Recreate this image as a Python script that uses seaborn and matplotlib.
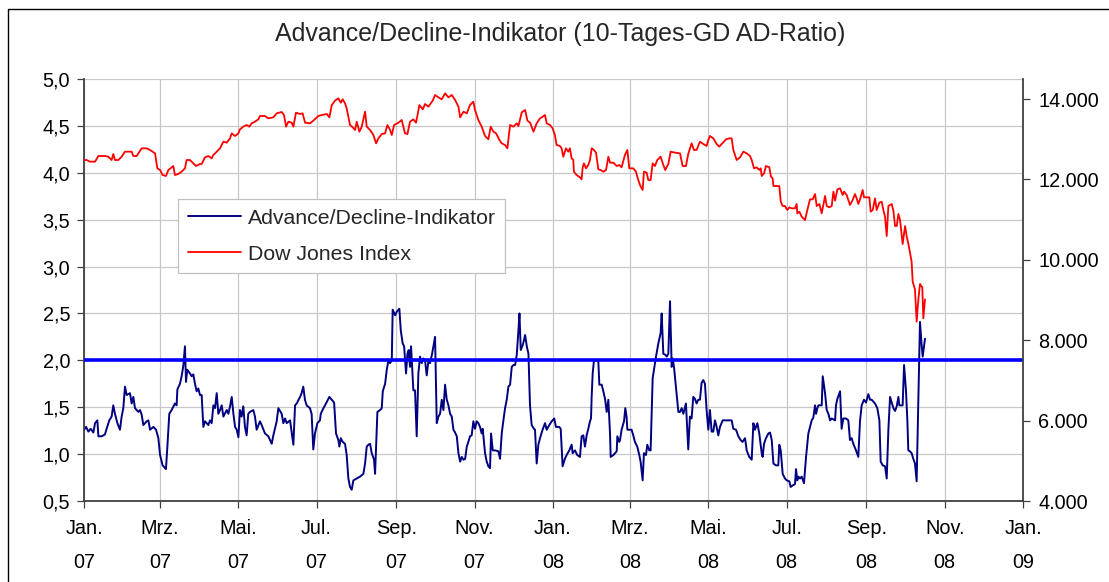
import numpy as np
import pandas as pd
import matplotlib
matplotlib.use("Agg")
import matplotlib.pyplot as plt
from matplotlib.lines import Line2D
from matplotlib.ticker import FixedLocator, FuncFormatter
import seaborn as sns

# day offsets are counted from 1 Jan 2007
start = pd.Timestamp("2007-01-01")

# Advance/Decline-Indikator (10-day average of the AD ratio)
ad_day = [
    0.0, 1.6, 3.4, 5.2, 7.3, 8.6, 10.4, 11.2, 13.8, 16.3, 17.6, 19.7, 21.5, 22.8, 24.1, 26.0,
    28.0, 29.3, 30.6, 31.9, 33.2, 35.8, 37.1, 38.4, 39.7, 42.3, 43.6, 44.9, 46.2, 48.8, 50.1,
    51.4, 54.0, 56.1, 57.9, 59.2, 61.2, 63.8, 64.9, 66.4, 68.2, 70.8, 72.1, 72.7, 74.7, 76.0,
    77.3, 78.6, 79.4, 80.4, 82.5, 83.8, 85.1, 86.4, 87.7, 89.0, 90.3, 91.6, 92.9, 94.2, 95.5,
    96.8, 98.1, 99.4, 100.7, 102.0, 103.3, 104.6, 105.9, 107.2, 108.5, 111.1, 112.4, 113.7,
    115.0, 116.3, 117.6, 118.9, 120.2, 121.4, 122.7, 124.0, 125.3, 126.6, 127.9, 129.2, 131.8,
    133.1, 134.4, 137.0, 138.3, 140.9, 143.5, 146.1, 147.4, 150.0, 151.3, 153.9, 155.2, 156.5,
    157.8, 160.4, 163.0, 164.3, 165.6, 168.2, 169.4, 170.7, 172.0, 173.3, 175.9, 177.2, 178.5,
    179.8, 181.7, 183.7,
    184.3, 186.4, 188.4, 191.0, 192.9, 194.7, 196.2, 198.0, 198.8, 199.9, 201.4, 203.2, 204.5,
    205.8, 207.1, 208.4, 209.7, 212.3, 214.9, 217.5, 218.8, 220.1, 221.4, 222.7, 224.0, 225.8,
    226.6, 228.4, 230.5, 231.8, 232.6, 234.4, 235.7, 237.0, 238.3, 239.6, 240.3, 242.2, 243.5,
    245.5, 246.6, 248.1, 249.2, 250.7, 251.8, 252.8, 253.8, 254.6, 256.4, 257.7, 259.0, 260.3,
    261.6, 262.9, 264.2, 265.5, 266.8, 268.1, 269.4, 271.0, 272.0, 273.3, 274.6, 275.9, 277.2,
    278.5, 279.8, 281.1, 282.4, 283.7, 285.0, 286.3, 287.6, 288.9, 290.2, 291.5, 292.8, 294.1,
    295.4, 296.7, 298.0, 299.2, 300.5, 301.8, 303.1, 304.4, 305.7, 307.0, 308.3, 309.6, 310.4,
    312.2, 313.5, 314.8, 316.1, 316.9, 318.2, 320.0, 322.6, 323.9, 325.2, 326.5, 327.8, 329.1,
    330.4, 331.7, 333.0, 334.3, 335.6, 336.9, 338.2, 339.0, 340.0, 341.5, 342.6, 343.4, 344.7,
    346.0,
    347.2, 348.5, 350.3, 351.1, 352.4, 353.7, 355.0, 357.0, 358.9, 360.2, 362.2, 364.1, 366.1,
    367.4, 370.0, 371.1, 372.6, 374.4, 375.7, 377.8, 379.6, 380.4, 382.2, 384.0, 386.1, 387.4,
    388.7, 390.0, 391.3, 392.6, 393.9, 394.7, 395.2, 396.0, 397.0, 399.1, 400.4, 401.2, 403.0,
    404.3, 405.6, 406.9, 408.2, 409.5, 410.0, 412.1, 414.7, 415.2, 416.7, 417.3, 418.5, 420.4,
    421.4, 422.4, 423.0, 426.3, 427.6, 428.9, 430.7, 432.3, 433.3, 434.9, 435.9, 437.5, 438.5,
    440.1, 441.1, 442.7, 443.7, 445.3, 447.1, 448.9, 449.7, 451.0, 452.5, 453.6, 454.9, 456.2,
    457.5, 458.3, 459.3, 460.8, 462.7, 464.0, 465.3, 466.6, 468.6, 470.4, 471.7, 473.0, 474.3,
    475.6, 476.9, 478.2, 479.5, 480.8, 482.1, 483.4, 484.7, 486.0, 487.3, 488.6, 489.9, 491.2,
    492.5, 493.8, 495.1, 497.2, 500.3, 504.2, 505.5, 507.6, 509.4, 511.2, 512.7, 514.6, 515.9,
    517.9, 519.8, 521.1, 522.3, 524.2, 525.7,
    526.3, 527.6, 528.3, 529.4, 530.9, 532.8, 534.1, 535.4, 536.7, 538.7, 540.5, 541.3, 542.4,
    543.9, 545.7, 547.0, 549.1, 550.1, 552.2, 553.5, 554.3, 555.3, 556.1, 557.4, 558.7, 560.5,
    562.1, 563.9, 565.2, 566.5, 567.8, 569.1, 569.9, 570.9, 571.7, 574.3, 575.1, 576.9, 578.2,
    579.5, 580.8, 582.1, 584.7, 585.4, 586.5, 588.6, 589.8, 591.1, 593.2, 595.0, 596.3, 597.6,
    598.9, 601.0, 602.8, 604.1, 605.4, 607.2, 608.8, 610.6, 611.9, 613.2, 614.5, 615.8, 617.6,
    619.2, 620.2, 621.8, 623.6, 624.9, 626.2, 627.5, 628.8, 630.1, 631.4, 632.7, 634.0, 634.7,
    637.3, 638.4, 639.9, 641.0, 641.7, 643.0, 644.3, 645.6, 646.9, 648.2, 650.8, 652.1, 652.9,
    653.9, 654.7,
]
ad_ratio = [
    1.26, 1.29, 1.24, 1.27, 1.23, 1.33, 1.36, 1.19, 1.19, 1.21, 1.27, 1.36, 1.40, 1.52, 1.43, 1.33,
    1.26, 1.40, 1.49, 1.72, 1.63, 1.65, 1.54, 1.61, 1.49, 1.45, 1.47, 1.42, 1.31, 1.35, 1.36,
    1.26, 1.29, 1.26, 1.17, 0.99, 0.88, 0.84, 1.08, 1.43, 1.47, 1.54, 1.52, 1.69, 1.75, 1.83,
    1.94, 2.15, 1.77, 1.90, 1.86, 1.83, 1.85, 1.75, 1.67, 1.70, 1.63, 1.63, 1.29, 1.35, 1.33,
    1.31, 1.36, 1.33, 1.52, 1.49, 1.65, 1.43, 1.47, 1.52, 1.40, 1.47, 1.43, 1.51,
    1.61, 1.43, 1.29, 1.26, 1.18, 1.47, 1.40, 1.51, 1.29, 1.20, 1.43, 1.45, 1.47,
    1.40, 1.26, 1.35, 1.31, 1.22, 1.19, 1.11, 1.20, 1.35, 1.49, 1.43, 1.33, 1.38,
    1.33, 1.36, 1.10, 1.52, 1.54, 1.61, 1.65, 1.72, 1.58, 1.52, 1.49, 1.43, 1.05,
    1.22, 1.33, 1.36,
    1.43, 1.49, 1.54, 1.61, 1.58, 1.55, 1.22, 1.15, 1.08, 1.17, 1.13, 1.11, 0.99,
    0.74, 0.65, 0.62, 0.72, 0.74, 0.76, 0.79, 0.90, 1.08, 1.10, 1.11, 1.01, 0.94,
    0.79, 1.45, 1.47, 1.49, 1.67, 1.75, 1.90, 2.00, 1.97, 2.00, 2.54, 2.48, 2.52,
    2.55, 2.32, 2.18, 2.15, 1.86, 2.07, 2.11, 1.93, 2.15, 1.68, 1.68, 1.19, 1.86,
    2.04, 1.97, 2.02, 2.00, 1.84, 1.99, 1.97, 2.07, 2.15, 2.25, 1.33, 1.40, 1.43,
    1.58, 1.47, 1.74, 1.58, 1.52, 1.43, 1.40, 1.26, 1.23, 1.19, 1.01, 0.92, 0.97,
    0.94, 0.95, 1.08, 1.13, 1.19, 1.20, 1.35, 1.27, 1.35, 1.33, 1.29, 1.22, 1.27,
    1.01, 0.92, 0.87, 0.85, 1.22, 1.04, 1.04, 1.03, 0.95, 1.22, 1.36, 1.49, 1.58,
    1.72, 1.74, 1.93, 1.95, 1.95, 2.06, 2.32, 2.50, 2.11, 2.16, 2.22, 2.27, 2.15,
    2.07,
    1.52, 1.31, 1.27, 1.26, 0.90, 1.10, 1.17, 1.26, 1.33, 1.26, 1.31, 1.35, 1.38,
    1.29, 1.29, 1.27, 0.87, 0.95, 0.99, 1.04, 1.10, 1.01, 1.04, 0.99, 0.97, 1.19,
    1.20, 1.08, 1.20, 1.27, 1.35, 1.38, 1.61, 1.86, 2.00, 2.00, 1.99, 1.74, 1.74,
    1.67, 1.59, 1.45, 1.58, 1.22, 0.97, 0.99, 1.03, 1.19, 1.13, 1.15, 1.26, 1.35,
    1.49, 1.40, 1.26, 1.26, 1.20, 1.13, 1.08, 0.99, 0.92, 0.72, 1.01, 0.99, 1.10,
    1.04, 1.04, 1.81, 1.90, 2.04, 2.18, 2.29, 2.50, 2.07, 2.06, 2.04, 2.07, 2.63,
    1.93, 2.02, 1.93, 1.72, 1.45, 1.45, 1.49, 1.43, 1.54, 1.05, 1.40, 1.38, 1.61,
    1.59, 1.54, 1.58, 1.58, 1.76, 1.79, 1.75, 1.47, 1.26, 1.47, 1.24, 1.24, 1.36,
    1.29, 1.20, 1.29, 1.36, 1.36, 1.36, 1.27, 1.26, 1.19, 1.15, 1.13, 1.17, 1.04,
    0.97, 0.94, 1.33, 1.26, 1.33, 1.22,
    1.15, 1.01, 0.97, 1.11, 1.17, 1.22, 1.23, 1.15, 0.90, 0.88, 0.88, 1.10, 1.04,
    0.79, 0.74, 0.72, 0.71, 0.65, 0.67, 0.68, 0.84, 0.72, 0.76, 0.74, 0.76, 0.69,
    0.97, 1.22, 1.29, 1.36, 1.39, 1.52, 1.43, 1.49, 1.52, 1.52, 1.83, 1.65, 1.47,
    1.43, 1.36, 1.38, 1.36, 1.52, 1.59, 1.67, 1.27, 1.38, 1.38, 1.36, 1.15, 1.17,
    1.11, 1.04, 0.97, 1.35, 1.52, 1.58, 1.55, 1.64, 1.58, 1.58, 1.56, 1.54, 1.49,
    1.36, 0.92, 0.88, 0.87, 0.74, 1.26, 1.61, 1.55, 1.49, 1.46, 1.51, 1.61, 1.52,
    1.52, 1.95, 1.68, 1.35, 1.04, 1.03, 1.01, 0.95, 0.90, 0.71, 2.41, 2.16, 2.04,
    2.15, 2.23,
]

# Dow Jones Index (right axis)
dj_day = [
    0.0, 2.1, 4.7, 8.6, 11.2, 16.3, 18.9, 21.5, 22.8, 24.1, 26.7, 29.3, 31.9, 37.1, 38.4, 41.0,
    44.9, 48.8, 51.4, 55.3, 57.1, 59.2, 61.2, 63.8, 65.7, 68.2, 69.5, 70.8, 73.4, 76.0, 78.6,
    79.9, 82.5, 85.1, 87.2, 90.3, 91.6, 94.2, 96.8, 99.4, 100.7, 103.3, 105.9, 108.5, 111.1,
    113.7, 115.0, 117.6, 120.2, 121.4, 124.0, 126.6, 128.7, 130.5, 133.1, 135.7, 137.0, 140.9,
    143.5, 147.4, 150.0, 153.9, 155.7, 157.3, 159.1, 161.7, 163.0, 165.0, 168.2, 170.2, 172.1,
    176.0, 178.5, 182.4,
    185.1, 189.0, 191.0, 192.9, 195.4, 198.0, 199.9, 201.4, 203.2, 204.5, 207.1, 209.2, 211.0,
    212.3, 214.4, 216.2, 218.8, 220.1, 222.7, 225.3, 227.4, 229.2, 231.8, 234.4, 236.2, 238.3,
    239.6, 241.4, 244.8, 247.3, 249.9, 251.8, 253.8, 256.4, 258.5, 261.1, 263.7, 265.5, 268.1,
    271.5, 273.3, 275.9, 278.5, 281.1, 283.7, 286.3, 288.9, 291.5, 292.8, 295.4, 298.0, 300.5,
    303.1, 304.4, 307.0, 309.6, 312.2, 314.8, 316.6, 318.7, 320.8, 323.4, 325.2, 327.8, 329.6,
    331.7, 334.3, 336.9, 338.2, 340.8, 343.4, 345.2, 347.3, 349.9, 352.4, 355.0,
    356.3, 358.9, 360.2, 362.8, 364.8, 366.6, 367.9, 370.5, 371.8, 373.1, 375.2, 377.0, 378.3,
    379.6, 380.9, 381.4, 383.5, 386.1, 387.4, 388.2, 389.2, 390.8, 392.6, 393.9, 395.2, 396.5,
    398.6, 400.4, 402.2, 404.3, 406.4, 408.2, 409.5, 412.1, 414.7, 416.7, 418.5, 421.1, 423.0,
    424.5, 427.6, 429.7, 430.7, 432.8, 434.9, 435.9, 438.0, 439.3, 441.1, 442.7, 444.5, 446.3,
    448.9, 451.0, 452.5, 454.9, 456.7, 460.1, 464.0, 466.0, 468.6, 470.4, 473.0, 474.9, 476.9,
    479.5, 482.1, 484.7, 486.0, 487.3, 489.9, 492.5, 494.6, 496.4, 498.2, 499.8, 502.4, 504.2,
    505.5, 508.1, 510.7, 513.3, 515.9, 518.5, 519.8, 521.6, 523.6, 525.7,
    526.8, 527.6, 529.4, 530.9, 533.5, 534.8, 536.1, 536.7, 539.2, 541.3, 542.4, 543.9, 545.7,
    547.5, 549.1, 550.9, 553.5, 554.8, 555.3, 556.9, 558.7, 561.3, 563.1, 565.2, 567.3, 569.1,
    570.4, 572.5, 574.3, 576.9, 578.2, 580.2, 582.1, 583.4, 584.7, 586.5, 588.6, 590.6, 591.7,
    593.7, 596.3, 598.4, 600.2, 601.5, 602.8, 604.1, 606.2, 607.2, 609.3, 611.4, 612.4, 614.0,
    615.8, 617.1, 619.2, 621.0, 622.3, 623.6, 624.9, 626.2, 628.8, 630.1, 631.4, 632.7, 634.0,
    635.3, 637.3, 639.2, 640.5, 641.7, 644.3, 645.1, 646.9, 648.2, 649.5, 650.8, 652.6, 653.4,
    654.7,
]
dj_close = [
    12484, 12484, 12443, 12443, 12584, 12584, 12567, 12484, 12634, 12484, 12484, 12567, 12692,
    12692, 12584, 12584, 12775, 12775, 12733, 12650, 12277, 12236, 12111, 12086, 12236, 12302,
    12335, 12111, 12136, 12194, 12277, 12484, 12484, 12401, 12335, 12385, 12385, 12551, 12584,
    12526, 12609, 12692, 12775, 12941, 12916, 13024, 13148, 13082, 13148, 13247, 13314, 13355,
    13314, 13397, 13438, 13496, 13579, 13579, 13521, 13546, 13646, 13679, 13604, 13314, 13438,
    13413, 13314, 13662, 13629, 13646, 13413, 13397, 13463, 13579,
    13604, 13629, 13546, 13853, 13961, 14019, 13911, 13994, 13894, 13770, 13355, 13297, 13231,
    13438, 13189, 13314, 13687, 13314, 13231, 13106, 12899, 13024, 13131, 13148, 13355, 13231,
    13106, 13355, 13413, 13480, 13148, 13131, 13438, 13496, 13413, 13853, 13745, 13878, 13811,
    13961, 14102, 14044, 13994, 14143, 14044, 14102, 13977, 13811, 13546, 13687, 13646, 13853,
    13936, 13729, 13480, 13314, 13082, 12999, 13314, 13189, 13148, 12982, 12899, 12858, 12775,
    13355, 13314, 13397, 13330, 13671, 13729, 13463, 13413, 13189, 13397, 13521,
    13546, 13604, 13397, 13355, 13272, 13106, 12858, 12833, 12775, 12567, 12775, 12692, 12775,
    12526, 12484, 12194, 12111, 12053, 12003, 12302, 12401, 12277, 12360, 12484, 12775, 12750,
    12667, 12252, 12236, 12194, 12236, 12567, 12418, 12418, 12335, 12360, 12302, 12609, 12733,
    12277, 12277, 12194, 12070, 11862, 11738, 12194, 12169, 11987, 11987, 12401, 12335, 12484,
    12567, 12360, 12236, 12385, 12692, 12667, 12650, 12335, 12335, 12634, 12899, 12733, 12733,
    12941, 12883, 12833, 12982, 13082, 13024, 12883, 12816, 12883, 12941, 12999, 13024, 13024,
    12733, 12484, 12551, 12692, 12650, 12584, 12484, 12277, 12302, 12236,
    12277, 12086, 12153, 12335, 12302, 12070, 12028, 11837, 11837, 11837, 11448, 11340, 11340,
    11240, 11307, 11282, 11282, 11390, 11157, 11199, 11074, 10991, 11240, 11506, 11506, 11638,
    11340, 11390, 11157, 11589, 11340, 11307, 11340, 11697, 11473, 11755, 11780, 11614, 11697,
    11614, 11365, 11489, 11638, 11531, 11390, 11506, 11738, 11556, 11556, 11556, 11199, 11240,
    11531, 11240, 11423, 11448, 11240, 11074, 10593, 11340, 11390, 11224, 10842, 10842, 11141,
    10991, 10394, 10842, 10577, 10411, 9955, 9457, 9266, 8462, 9001, 9399, 9316, 8545,
    9017,
]

threshold = 2.0

month_names = {1: "Jan.", 3: "Mrz.", 5: "Mai.", 7: "Jul.", 9: "Sep.", 11: "Nov."}
tick_dates = pd.date_range("2007-01-01", "2009-01-01", freq="2MS")
tick_labels = [f"{month_names[d.month]}\n{d.strftime('%y')}" for d in tick_dates]

ad = pd.DataFrame({"date": start + pd.to_timedelta(ad_day, unit="D"), "ratio": ad_ratio})
dj = pd.DataFrame({"date": start + pd.to_timedelta(dj_day, unit="D"), "close": dj_close})

sns.set_style("white")
plt.rcParams["font.family"] = ["Liberation Sans", "DejaVu Sans"]

axis_grey = "#404040"
grid_grey = "#c8c8c8"

fig = plt.figure(figsize=(11.09, 5.82), dpi=100)
ax = fig.add_axes([84 / 1109, 1 - 501 / 582, 939 / 1109, 422 / 582])
ax2 = ax.twinx()

sns.lineplot(data=ad, x="date", y="ratio", ax=ax, color="#000080", linewidth=1.4, sort=False)
ax.axhline(threshold, color="#0000ff", linewidth=2.6, zorder=3)
sns.lineplot(data=dj, x="date", y="close", ax=ax2, color="#ff0000", linewidth=1.3, sort=False)

ax.set_xlim(pd.Timestamp("2007-01-01"), pd.Timestamp("2009-01-01"))
ax.set_ylim(0.5, 5.0)
ax2.set_ylim(4000, 14500)

ax.set_xticks(tick_dates, tick_labels)
for t in ax.get_xticklabels():
    t.set_linespacing(2.0)
ax.yaxis.set_major_locator(FixedLocator(np.arange(0.5, 5.01, 0.5)))
ax.yaxis.set_major_formatter(FuncFormatter(lambda v, p: f"{v:.1f}".replace(".", ",")))
ax2.yaxis.set_major_locator(FixedLocator(np.arange(4000, 14001, 2000)))
ax2.yaxis.set_major_formatter(FuncFormatter(lambda v, p: f"{v:,.0f}".replace(",", ".")))

ax.grid(True, color=grid_grey, linewidth=0.9)
ax.set_axisbelow(True)
ax2.grid(False)

for a in (ax, ax2):
    a.set_xlabel("")
    a.set_ylabel("")
    for s in a.spines.values():
        s.set_visible(False)
ax.spines["left"].set_visible(True)
ax.spines["bottom"].set_visible(True)
ax2.spines["right"].set_visible(True)
for s in (ax.spines["left"], ax.spines["bottom"], ax2.spines["right"]):
    s.set_color(axis_grey)
    s.set_linewidth(1.3)

ax.tick_params(axis="x", bottom=True, direction="out", length=5, width=0.9,
               color=axis_grey, labelsize=14.3, pad=8, labelcolor="black")
ax.tick_params(axis="y", left=True, direction="out", length=5, width=0.9,
               color=axis_grey, labelsize=14.3, pad=5, labelcolor="black")
ax2.tick_params(axis="y", right=True, direction="out", length=5, width=0.9,
                color=axis_grey, labelsize=14.3, pad=6, labelcolor="black")

handles = [ax.lines[0], ax2.lines[0]]
labels = ["Advance/Decline-Indikator", "Dow Jones Index"]
leg = ax2.legend(handles, labels, loc="upper left",
                 bbox_to_anchor=((178 - 84) / 939, (501 - 199) / 422),
                 borderaxespad=0, fontsize=15.3, handlelength=2.5, handletextpad=0.33,
                 labelspacing=0.8, borderpad=0.45, fancybox=False, framealpha=1,
                 edgecolor="#c0c0c0")
leg.get_frame().set_linewidth(0.9)

fig.text(560 / 1109, 1 - 34 / 582, "Advance/Decline-Indikator (10-Tages-GD AD-Ratio)",
         ha="center", va="center", fontsize=18)

# chart frame (only left and top edges are visible in the crop)
fig.add_artist(Line2D([8 / 1109, 8 / 1109, 1], [0, 1 - 9 / 582, 1 - 9 / 582],
                      transform=fig.transFigure, color="black", linewidth=1.0))

fig.savefig("out.png", dpi=100)
